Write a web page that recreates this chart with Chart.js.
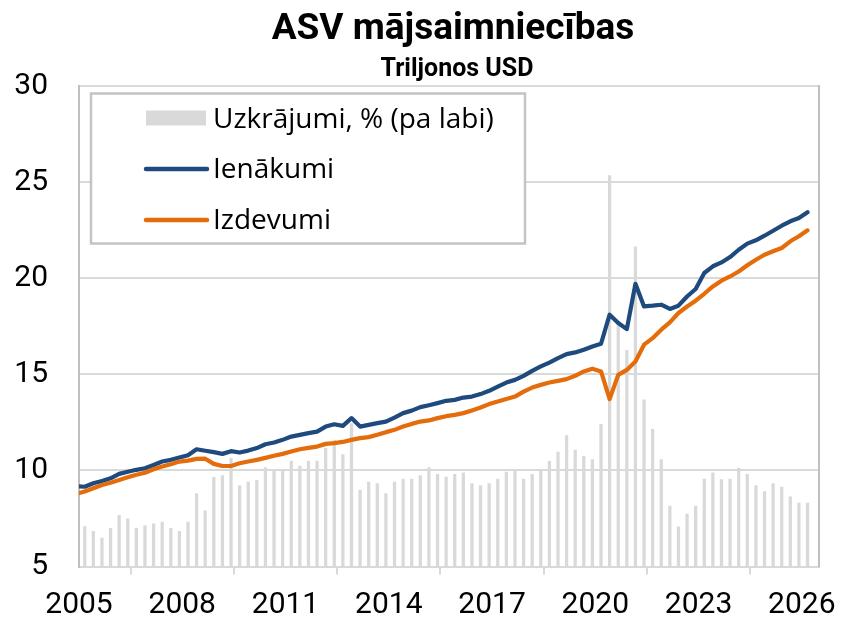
<!DOCTYPE html>
<html>
<head>
<meta charset="utf-8">
<script src="https://cdn.jsdelivr.net/npm/chart.js@4.4.1/dist/chart.umd.min.js"></script>
<style>
html,body{margin:0;padding:0;background:#fff;}
#wrap{width:841px;height:621px;position:relative;}
</style>
</head>
<body>
<div id="wrap"><canvas id="c" width="841" height="621"></canvas></div>
<script>
const titleText = 'ASV mājsaimniecības';
const subtitleText = 'Triljonos USD';
const seriesLabels = ['Uzkrājumi, % (pa labi)', 'Ienākumi', 'Izdevumi'];
const xTickYears = [2005, 2008, 2011, 2014, 2017, 2020, 2023, 2026];
const yTicks = [5, 10, 15, 20, 25, 30];

// quarterly periods (end month of quarter), 2004-12 .. 2026-03
const lineQuarters = [];
for (let y = 2004; y <= 2026; y++) {
  for (const m of [3, 6, 9, 12]) {
    const s = y + '-' + String(m).padStart(2, '0');
    if (s >= '2004-12' && s <= '2026-03') lineQuarters.push(s);
  }
}
const barQuarters = lineQuarters.slice(1);

// Ienākumi (trillion USD)
const ienakumi = [
  9.18, 9.15, 9.33, 9.45, 9.59, 9.82, 9.93, 10.03, 10.11, 10.28,
  10.46, 10.55, 10.67, 10.79, 11.10, 11.02, 10.95, 10.86, 11.00, 10.93,
  11.03, 11.16, 11.36, 11.45, 11.59, 11.76, 11.85, 11.94, 12.02, 12.28,
  12.40, 12.32, 12.72, 12.28, 12.37, 12.46, 12.54, 12.75, 12.98, 13.11,
  13.29, 13.39, 13.50, 13.62, 13.67, 13.79, 13.84, 13.97, 14.14, 14.36,
  14.57, 14.71, 14.92, 15.18, 15.41, 15.61, 15.84, 16.05, 16.14, 16.28,
  16.45, 16.59, 18.10, 17.67, 17.35, 19.71, 18.53, 18.57, 18.62, 18.40,
  18.57, 19.05, 19.44, 20.27, 20.62, 20.82, 21.10, 21.48, 21.80, 21.97,
  22.21, 22.47, 22.73, 22.96, 23.13, 23.43
];
// Izdevumi (trillion USD)
const izdevumi = [
  8.78, 8.90, 9.07, 9.24, 9.36, 9.50, 9.64, 9.77, 9.88, 10.06,
  10.20, 10.32, 10.46, 10.51, 10.60, 10.61, 10.34, 10.23, 10.23, 10.37,
  10.46, 10.55, 10.65, 10.76, 10.86, 10.98, 11.10, 11.17, 11.24, 11.38,
  11.42, 11.48, 11.59, 11.68, 11.73, 11.85, 11.99, 12.11, 12.28, 12.42,
  12.54, 12.60, 12.72, 12.82, 12.89, 12.98, 13.12, 13.27, 13.45, 13.58,
  13.71, 13.84, 14.10, 14.31, 14.45, 14.57, 14.66, 14.75, 14.92, 15.15,
  15.29, 15.15, 13.71, 14.97, 15.23, 15.67, 16.54, 16.88, 17.32, 17.70,
  18.19, 18.53, 18.83, 19.19, 19.57, 19.87, 20.09, 20.35, 20.67, 20.96,
  21.22, 21.40, 21.57, 21.92, 22.18, 22.49
];
// Uzkrājumi, % (right axis), 2005-03 .. 2026-03
const uzkrajumi = [
  2.50, 2.19, 1.77, 2.38, 3.19, 2.98, 2.38, 2.56, 2.67, 2.77,
  2.38, 2.19, 2.77, 4.56, 3.48, 5.56, 5.67, 6.75, 5.06, 5.27,
  5.38, 6.17, 5.98, 6.00, 6.58, 6.27, 6.58, 6.58, 7.38, 7.88,
  6.98, 8.92, 4.77, 5.27, 5.17, 4.56, 5.27, 5.46, 5.46, 5.67,
  6.17, 5.75, 5.58, 5.75, 5.85, 5.17, 5.06, 5.17, 5.46, 5.90,
  5.94, 5.46, 5.75, 6.06, 6.56, 7.15, 8.17, 7.27, 6.88, 6.67,
  8.88, 24.40, 15.10, 13.50, 19.96, 10.40, 8.56, 6.67, 3.77, 2.48,
  3.27, 3.77, 5.46, 5.85, 5.42, 5.46, 6.15, 5.75, 5.06, 4.67,
  5.17, 4.96, 4.35, 3.96, 3.96
];

const colBlue = '#1f4a7e';
const colOrange = '#e46c0a';
const colBar = '#d9d9d9';
const colGrid = '#d9d9d9';
const colAxis = '#bfbfbf';

function qToX(q) {
  const [y, m] = q.split('-').map(Number);
  return y + (m - 1) / 12;
}
const toPts = (qs, vals) => qs.map((q, i) => ({ x: qToX(q), y: vals[i] }));

const tickFont = { family: 'Roboto', size: 30 };

const titlePlugin = {
  id: 'titles',
  afterDraw(chart) {
    const ctx = chart.ctx;
    ctx.save();
    ctx.fillStyle = '#000';
    ctx.textAlign = 'center';
    ctx.textBaseline = 'alphabetic';
    ctx.font = 'bold 37px Roboto';
    ctx.fillText(titleText, 453, 39);
    ctx.font = 'bold 25px Roboto';
    ctx.fillText(subtitleText, 457, 76);
    ctx.restore();
  }
};

const legendPlugin = {
  id: 'boxLegend',
  afterDatasetsDraw(chart) {
    const ctx = chart.ctx;
    const bx = 91, by = 93.5, bw = 434, bh = 150;
    ctx.save();
    ctx.fillStyle = '#fff';
    ctx.fillRect(bx, by, bw, bh);
    ctx.strokeStyle = '#c4c4c4';
    ctx.lineWidth = 2.5;
    ctx.strokeRect(bx, by, bw, bh);
    ctx.font = '28px "Open Sans"';
    ctx.textBaseline = 'alphabetic';
    ctx.textAlign = 'left';
    const rows = [128, 178, 229];
    chart.data.datasets.forEach((ds, i) => {
      const yb = rows[i];
      if (ds.type === 'bar') {
        ctx.fillStyle = ds.backgroundColor;
        ctx.fillRect(146, 110.5, 60, 15);
      } else {
        ctx.strokeStyle = ds.borderColor;
        ctx.lineWidth = 4.5;
        ctx.lineCap = 'round';
        ctx.beginPath();
        ctx.moveTo(146, yb - 9);
        ctx.lineTo(207, yb - 9);
        ctx.stroke();
      }
      ctx.fillStyle = '#000';
      ctx.fillText(ds.label, 213, yb);
    });
    ctx.restore();
  }
};

new Chart(document.getElementById('c'), {
  type: 'line',
  data: {
    datasets: [
      {
        type: 'bar',
        label: seriesLabels[0],
        data: toPts(barQuarters, uzkrajumi),
        backgroundColor: colBar,
        borderWidth: 0,
        barThickness: 2.6,
        xAxisID: 'x',
        yAxisID: 'y2',
        order: 3
      },
      {
        type: 'line',
        label: seriesLabels[1],
        data: toPts(lineQuarters, ienakumi),
        borderColor: colBlue,
        backgroundColor: colBlue,
        borderWidth: 4.2,
        pointRadius: 0,
        tension: 0,
        borderJoinStyle: 'round',
        borderCapStyle: 'round',
        clip: { left: 0, right: 10, top: 10, bottom: 10 },
        xAxisID: 'x',
        yAxisID: 'y',
        order: 2
      },
      {
        type: 'line',
        label: seriesLabels[2],
        data: toPts(lineQuarters, izdevumi),
        borderColor: colOrange,
        backgroundColor: colOrange,
        borderWidth: 4.2,
        pointRadius: 0,
        tension: 0,
        borderJoinStyle: 'round',
        borderCapStyle: 'round',
        clip: { left: 0, right: 10, top: 10, bottom: 10 },
        xAxisID: 'x',
        yAxisID: 'y',
        order: 1
      }
    ]
  },
  options: {
    responsive: false,
    devicePixelRatio: 1,
    animation: false,
    events: [],
    layout: { padding: { left: 0, top: 86, right: 22, bottom: 0 } },
    plugins: {
      legend: { display: false },
      title: { display: false },
      tooltip: { enabled: false }
    },
    scales: {
      x: {
        type: 'linear',
        position: 'bottom',
        min: 2005,
        max: 2026.5,
        offset: false,
        afterBuildTicks: s => { s.ticks = xTickYears.map(v => ({ value: v })); },
        afterFit: s => { s.height = 54.5; },
        ticks: {
          callback: v => String(v),
          font: { family: 'Roboto', size: 30, lineHeight: 2.08 },
          color: '#000',
          padding: 0,
          maxRotation: 0,
          autoSkip: false
        },
        grid: { drawOnChartArea: false, color: colGrid, lineWidth: 2, tickLength: 8 },
        border: { color: colGrid, width: 2 }
      },
      y: {
        type: 'linear',
        position: 'left',
        min: 5,
        max: 30,
        afterBuildTicks: s => { s.ticks = yTicks.map(v => ({ value: v })); },
        afterFit: s => { s.width = 79; },
        ticks: { font: tickFont, color: '#000', padding: 31 },
        grid: { color: colGrid, lineWidth: 2, drawTicks: false },
        border: { color: colAxis, width: 2 }
      },
      y2: {
        type: 'linear',
        position: 'right',
        min: 0,
        max: 30,
        afterFit: s => { s.width = 0; },
        ticks: { display: false },
        grid: { drawOnChartArea: false, drawTicks: false },
        border: { color: colAxis, width: 2 }
      }
    }
  },
  plugins: [legendPlugin, titlePlugin]
});
</script>
</body>
</html>
